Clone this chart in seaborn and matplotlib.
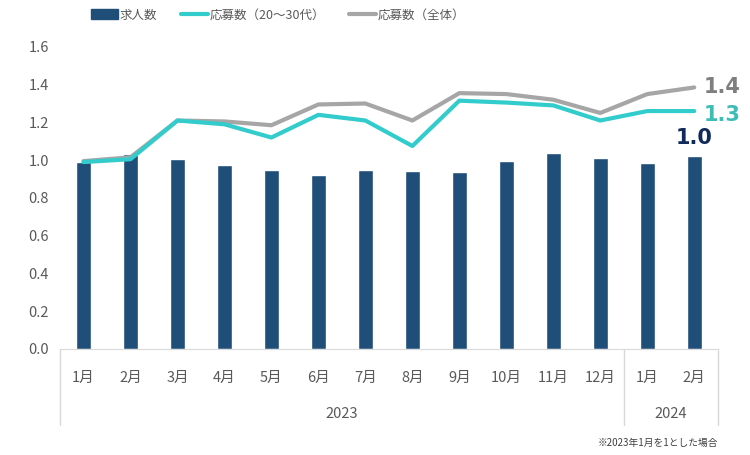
import numpy as np
import pandas as pd
import matplotlib
matplotlib.use('Agg')
import matplotlib.pyplot as plt
import matplotlib.transforms as mtransforms
from matplotlib.patches import Patch
from matplotlib.lines import Line2D
import seaborn as sns

# data (2023年1月 = 1)
months = ['1月', '2月', '3月', '4月', '5月', '6月', '7月', '8月', '9月', '10月', '11月', '12月', '1月', '2月']
years = ['2023', '2024']
jobs = [0.99, 1.03, 1.005, 0.975, 0.948, 0.92, 0.948, 0.94, 0.937, 0.995, 1.04, 1.01, 0.985, 1.02]
apply_young = [0.99, 1.005, 1.21, 1.19, 1.12, 1.24, 1.21, 1.075, 1.315, 1.305, 1.29, 1.21, 1.26, 1.26]
apply_all = [0.995, 1.015, 1.21, 1.205, 1.185, 1.295, 1.30, 1.21, 1.355, 1.35, 1.32, 1.25, 1.35, 1.385]

bar_col = '#1f4e79'
teal = '#33cccc'
grey = '#a6a6a6'
txt_col = '#595959'

sns.set_style('white')
plt.rcParams['font.family'] = ['Noto Sans CJK JP', 'DejaVu Sans']

df = pd.DataFrame({'idx': np.arange(len(months)), 'jobs': jobs,
                   'young': apply_young, 'all': apply_all})

fig = plt.figure(figsize=(7.5, 4.55), dpi=100)
ax = fig.add_axes([0.08, 0.233, 0.877, 0.664])

sns.barplot(data=df, x='idx', y='jobs', color=bar_col, width=0.32,
            saturation=1, ax=ax, zorder=2)
sns.lineplot(data=df, x='idx', y='all', color=grey, lw=3, ax=ax, zorder=3)
sns.lineplot(data=df, x='idx', y='young', color=teal, lw=3, ax=ax, zorder=4)

ax.set_xlim(-0.5, len(months) - 0.5)
ax.set_ylim(0, 1.6)
ax.set_yticks(np.arange(0, 1.61, 0.2))
ax.set_yticklabels([f'{v:.1f}' for v in np.arange(0, 1.61, 0.2)], fontsize=10.5, color=txt_col)
ax.set_xticks(range(len(months)))
ax.set_xticklabels(months, fontsize=10.5, color=txt_col)
ax.tick_params(axis='x', length=0, pad=16)
ax.tick_params(axis='y', length=0, pad=8)
ax.set_xlabel('')
ax.set_ylabel('')
sns.despine(ax=ax, left=True, top=True, right=True)
ax.spines['bottom'].set_color('#d9d9d9')

# year grouping under the month labels
trans = mtransforms.blended_transform_factory(ax.transData, ax.transAxes)
for xv in [-0.5, 11.5, 13.5]:
    ax.plot([xv, xv], [0, -0.25], transform=trans, color='#d9d9d9', lw=1, clip_on=False)
ax.text(5.5, -0.215, years[0], transform=trans, ha='center', va='center', fontsize=10.5, color=txt_col)
ax.text(12.5, -0.215, years[1], transform=trans, ha='center', va='center', fontsize=10.5, color=txt_col)

# end labels
ax.text(13.2, apply_all[-1], f'{apply_all[-1]:.1f}', color='#7f7f7f', fontsize=15,
        fontweight='bold', va='center', ha='left', family=['DejaVu Sans'])
ax.text(13.2, apply_young[-1] - 0.02, f'{apply_young[-1]:.1f}', color='#3dbdb5', fontsize=15,
        fontweight='bold', va='center', ha='left', family=['DejaVu Sans'])
ax.text(13.0, jobs[-1] + 0.1, f'{jobs[-1]:.1f}', color='#102a5c', fontsize=15,
        fontweight='bold', va='center', ha='center', family=['DejaVu Sans'])

handles = [Patch(color=bar_col, label='求人数'),
           Line2D([0], [0], color=teal, lw=3, label='応募数（20～30代）'),
           Line2D([0], [0], color=grey, lw=3, label='応募数（全体）')]
fig.legend(handles=handles, loc='center left', bbox_to_anchor=(0.115, 0.967), ncol=3,
           frameon=False, fontsize=9, handlelength=2.1, handleheight=0.9,
           handletextpad=0.2, columnspacing=1.9, labelcolor=txt_col,
           borderaxespad=0)

fig.text(0.957, 0.027, '※2023年1月を1とした場合', ha='right', va='center',
         fontsize=7, color='#404040')

fig.savefig('out.png', dpi=100)
